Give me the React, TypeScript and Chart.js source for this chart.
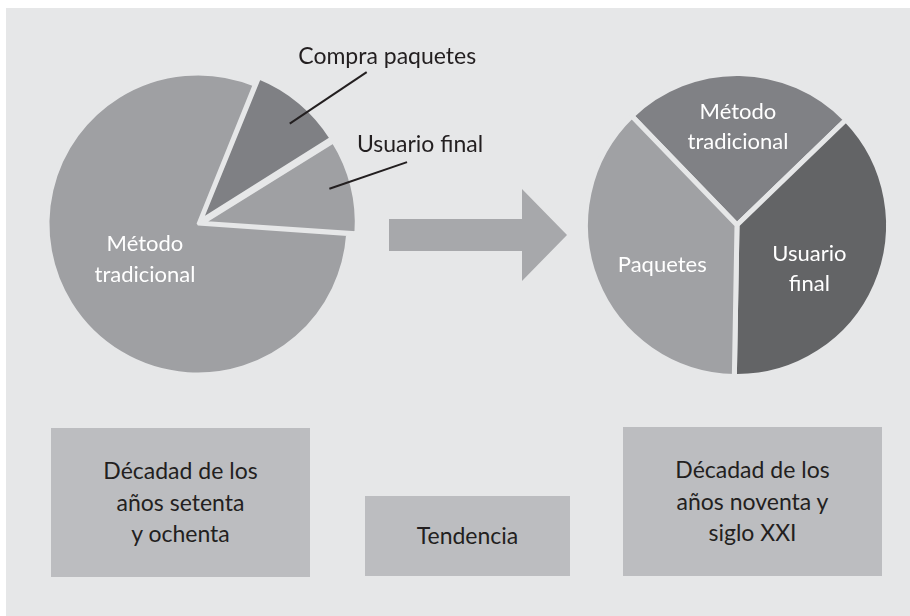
import React, { useEffect, useRef } from 'react';
import { Chart, registerables } from 'chart.js';

Chart.register(...registerables);

// ---- data ----
const leftCategories = ['Compra paquetes', 'Usuario final', 'Método tradicional'];
const leftValues = [10, 10, 80];
const rightCategories = ['Método tradicional', 'Usuario final', 'Paquetes'];
const rightValues = [25, 37.5, 37.5];
const boxTexts = [
  'Décadad de los\naños setenta\ny ochenta',
  'Tendencia',
  'Décadad de los\naños noventa y\nsiglo XXI',
];

// ---- styles ----
const BG = '#e6e7e8';
const DARK_TEXT = '#231f20';
const FONT = 'Lato, "Open Sans", sans-serif';
const leftColors = ['#7f8084', '#9fa0a3', '#9fa0a3'];
const rightColors = ['#808185', '#636466', '#a0a1a4'];

type Spec =
  | { kind: 'inside'; frac: number; rFrac: number; size: number; lh: number; color: string }
  | {
      kind: 'leader';
      frac: number;
      rFrac: number;
      endAngle: number;
      endDist: number;
      dx: number;
      dy: number;
      size: number;
      color: string;
    };

const leftSpecs: Spec[] = [
  { kind: 'leader', frac: 0.57, rFrac: 0.867, endAngle: -42, endDist: 227, dx: 20.5, dy: -8, size: 23, color: DARK_TEXT },
  { kind: 'leader', frac: 0.47, rFrac: 0.867, endAngle: -16.5, endDist: 218, dx: 13, dy: -10, size: 23, color: DARK_TEXT },
  { kind: 'inside', frac: 0.494, rFrac: 0.425, size: 22, lh: 31, color: '#ffffff' },
];
const rightSpecs: Spec[] = [
  { kind: 'inside', frac: 0.495, rFrac: 0.65, size: 22, lh: 30, color: '#ffffff' },
  { kind: 'inside', frac: 0.558, rFrac: 0.559, size: 22, lh: 30, color: '#ffffff' },
  { kind: 'inside', frac: 0.45, rFrac: 0.56, size: 22, lh: 30, color: '#ffffff' },
];

const sliceLabelPlugin = {
  id: 'sliceLabels',
  afterDatasetsDraw(chart: any, _args: any, opts: any) {
    const specs: Spec[] = opts.specs || [];
    const ctx = chart.ctx as CanvasRenderingContext2D;
    const meta = chart.getDatasetMeta(0);
    const labels = chart.data.labels as string[];
    ctx.save();
    meta.data.forEach((el: any, i: number) => {
      const spec = specs[i];
      if (!spec) return;
      const p = el.getProps(['x', 'y', 'startAngle', 'endAngle', 'outerRadius'], true);
      const off = (el.options.offset || 0) / 4;
      const mid = (p.startAngle + p.endAngle) / 2;
      const cx = p.x + Math.cos(mid) * off;
      const cy = p.y + Math.sin(mid) * off;
      const a = p.startAngle + (p.endAngle - p.startAngle) * spec.frac;
      const px = cx + Math.cos(a) * p.outerRadius * spec.rFrac;
      const py = cy + Math.sin(a) * p.outerRadius * spec.rFrac;
      ctx.fillStyle = spec.color;
      ctx.textAlign = 'center';
      if (spec.kind === 'inside') {
        const lines = labels[i].split(' ');
        ctx.font = `${spec.size}px ${FONT}`;
        ctx.textBaseline = 'middle';
        lines.forEach((ln, k) => {
          ctx.fillText(ln, px, py + (k - (lines.length - 1) / 2) * spec.lh);
        });
      } else {
        const ea = (spec.endAngle * Math.PI) / 180;
        const ex = p.x + Math.cos(ea) * spec.endDist;
        const ey = p.y + Math.sin(ea) * spec.endDist;
        ctx.strokeStyle = spec.color;
        ctx.lineWidth = 2;
        ctx.beginPath();
        ctx.moveTo(px, py);
        ctx.lineTo(ex, ey);
        ctx.stroke();
        ctx.font = `${spec.size}px ${FONT}`;
        ctx.textBaseline = 'alphabetic';
        ctx.fillText(labels[i], ex + spec.dx, ey + spec.dy);
      }
    });
    ctx.restore();
  },
};

function makeConfig(
  labels: string[],
  values: number[],
  colors: string[],
  borderWidth: number,
  offsets: number[],
  rotation: number,
  radius: number,
  padding: { left: number; right: number; top: number; bottom: number },
  specs: Spec[]
): any {
  return {
    type: 'pie',
    data: {
      labels,
      datasets: [
        {
          data: values,
          backgroundColor: colors,
          borderColor: BG,
          borderWidth,
          offset: offsets,
          rotation,
          radius,
        },
      ],
    },
    options: {
      responsive: true,
      maintainAspectRatio: false,
      animation: false,
      events: [],
      rotation,
      radius,
      layout: { padding },
      plugins: {
        legend: { display: false },
        tooltip: { enabled: false },
        sliceLabels: { specs },
      },
    },
    plugins: [sliceLabelPlugin],
  };
}

function PieCanvas({ config }: { config: any }) {
  const ref = useRef<HTMLCanvasElement | null>(null);
  useEffect(() => {
    if (!ref.current) return;
    const chart = new Chart(ref.current, config);
    const fonts: any = (document as any).fonts;
    if (fonts && fonts.load) {
      fonts.load(`22px Lato`).then(() => chart.draw()).catch(() => {});
    }
    return () => chart.destroy();
  }, [config]);
  return (
    <div style={{ position: 'absolute', left: 0, top: 0, width: 910, height: 616 }}>
      <canvas ref={ref} />
    </div>
  );
}

const leftConfig = makeConfig(
  leftCategories,
  leftValues,
  leftColors,
  3,
  [24, 24, 0],
  22,
  150,
  { left: 0, right: 514, top: 0, bottom: 168 },
  leftSpecs
);
const rightConfig = makeConfig(
  rightCategories,
  rightValues,
  rightColors,
  5,
  [0, 0, 0],
  -44,
  151.5,
  { left: 564, right: 0, top: 0, bottom: 166 },
  rightSpecs
);

const boxes = [
  { left: 51, top: 428, width: 259, height: 149 },
  { left: 365, top: 496, width: 205, height: 80 },
  { left: 623, top: 427, width: 259, height: 149 },
];

export default function App() {
  return (
    <div
      style={{
        position: 'absolute',
        left: 0,
        top: 0,
        width: 910,
        height: 616,
        background: '#ffffff',
        overflow: 'hidden',
        fontFamily: FONT,
      }}
    >
      <div style={{ position: 'absolute', left: 6, top: 8, width: 904, height: 608, background: BG }} />
      {boxes.map((b, i) => (
        <div
          key={i}
          style={{
            position: 'absolute',
            left: b.left,
            top: b.top,
            width: b.width,
            height: b.height,
            background: '#bcbdc0',
            color: DARK_TEXT,
            display: 'flex',
            alignItems: 'center',
            justifyContent: 'center',
            textAlign: 'center',
            whiteSpace: 'pre-line',
            fontSize: 23,
            lineHeight: '31.5px',
          }}
        >
          {boxTexts[i]}
        </div>
      ))}
      <svg
        width={910}
        height={616}
        style={{ position: 'absolute', left: 0, top: 0 }}
      >
        <polygon points="389,219 522,219 522,189 567,235 522,281 522,251 389,251" fill="#a7a8ab" />
      </svg>
      <PieCanvas config={leftConfig} />
      <PieCanvas config={rightConfig} />
    </div>
  );
}
